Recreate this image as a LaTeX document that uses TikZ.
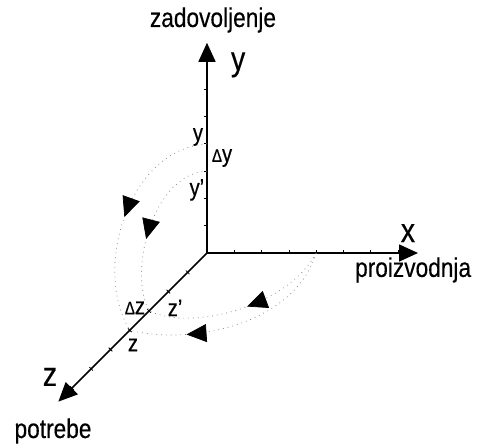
\documentclass[tikz,border=0pt]{standalone}
\usepackage{fontspec}
\setmainfont{Liberation Sans}[FakeStretch=0.84, FakeBold=0.4]
\usetikzlibrary{arrows.meta, positioning, decorations.markings}
\newcommand{\dlt}{{\fontsize{18}{18}\selectfont Δ}}
\tikzset{
    axis/.style={line width=1.6pt, -{Triangle[length=19pt,width=17pt]}},
    tickmark/.style={line width=0.8pt},
    flowarc/.style={gray, line width=0.7pt, dash pattern=on 0.8pt off 4pt,
        postaction={decorate},
        decoration={markings, mark=at position #1 with {\arrow[black]{Triangle[length=20pt,width=18pt]}}}},
    axisname/.style={font=\fontsize{27}{30}\selectfont, inner sep=0pt},
    axisletter/.style={font=\fontsize{34}{36}\selectfont, inner sep=0pt},
    pointlabel/.style={font=\fontsize{24}{26}\selectfont, inner sep=0pt}
}
\begin{document}
\begin{tikzpicture}[x=27.3pt, y=27.3pt]
    \useasboundingbox (-7.582,-7.033) rectangle (10.073,9.267);
    % axes
    \coordinate (O) at (0,0);
    \coordinate (ytip) at (0,7.7);
    \coordinate (xtip) at (7.73,0);
    \coordinate (ztip) at (225:7.7);
    \draw[axis] (O) -- (ytip);
    \draw[axis] (O) -- (xtip);
    \draw[axis] (O) -- (ztip);
    \foreach \i in {1,...,7} {
        \draw[tickmark] (\i,0) -- (\i,3pt);
        \draw[tickmark] (0,\i) -- (-3pt,\i);
        \draw[tickmark, shift={(225:\i)}] (-45:2.5pt) -- (135:2.5pt);
    }
    % points on the axes
    \coordinate (y) at (0,4);
    \coordinate (yp) at (0,3);
    \coordinate (x) at (4,0);
    \coordinate (z) at (225:4);
    \coordinate (zp) at (225:3);
    % dotted arcs
    \draw[flowarc=0.5] (y) .. controls (-2.9,3.8) and (-4.2,-0.6) .. (z);
    \draw[flowarc=0.57] (yp) .. controls (-2.0,2.9) and (-2.9,-0.7) .. (zp);
    \draw[flowarc=0.47] (x) .. controls (3.0,-1.9) and (-0.5,-2.9) .. (zp);
    \draw[flowarc=0.74] (x) .. controls (3.2,-2.6) and (-0.5,-3.4) .. (z);
    % labels
    \node (satisf) [axisname, above=10pt of ytip, xshift=6pt] {zadovoljenje};
    \node (ylab) [axisletter] at (1.14,6.89) {y};
    \node (xlab) [axisletter] at (7.36,0.73) {x};
    \node (prod) [axisname] at (7.55,-0.62) {proizvodnja};
    \node (zlab) [axisletter] at (-5.75,-4.54) {z};
    \node (needs) [axisname] at (-5.64,-6.52) {potrebe};
    \node (ylbl) [pointlabel] at (-0.33,4.25) {y};
    \node (dy) [pointlabel] at (0.55,3.48) {\dlt y};
    \node (yplbl) [pointlabel] at (-0.37,2.31) {y'};
    \node (dz) [pointlabel] at (-2.64,-2.01) {\dlt z};
    \node (zplbl) [pointlabel] at (-1.17,-2.01) {z'};
    \node (zlbl) [pointlabel] at (-2.71,-3.37) {z};
\end{tikzpicture}
\end{document}
